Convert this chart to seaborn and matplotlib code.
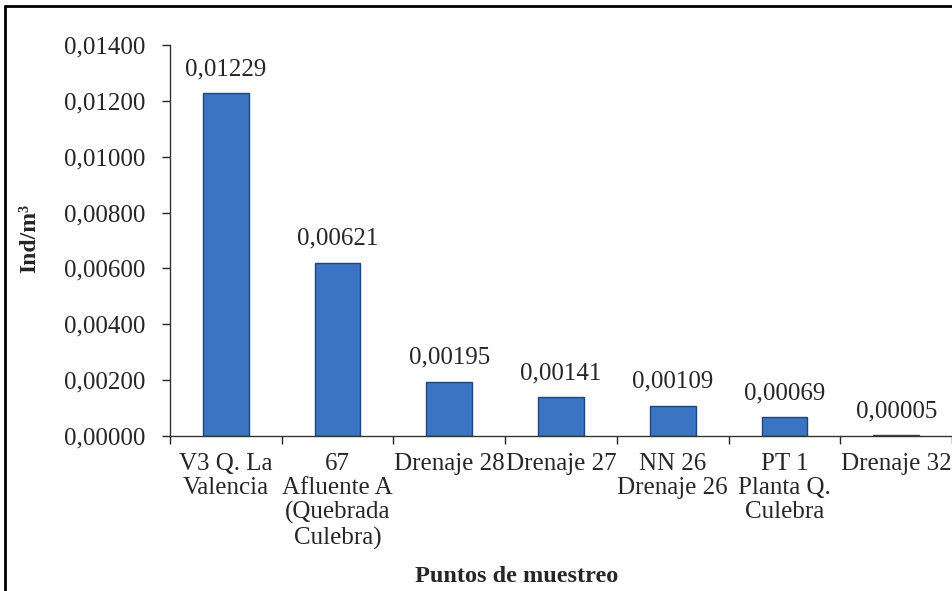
import pandas as pd
import numpy as np
import matplotlib.pyplot as plt
import seaborn as sns
from matplotlib.lines import Line2D
from matplotlib.ticker import FixedLocator

sns.set_style('white')
plt.rcParams['font.family'] = ['Liberation Serif', 'DejaVu Serif']

# Datos
puntos = ['V3 Q. La\nValencia', '67\nAfluente A\n(Quebrada\nCulebra)', 'Drenaje 28',
          'Drenaje 27', 'NN 26\nDrenaje 26', 'PT 1\nPlanta Q.\nCulebra', 'Drenaje 32']
densidad = [0.01229, 0.00621, 0.00195, 0.00141, 0.00109, 0.00069, 0.00005]
y_ticks = [0.0, 0.002, 0.004, 0.006, 0.008, 0.010, 0.012, 0.014]

df = pd.DataFrame({'punto': puntos, 'densidad': densidad})

fig = plt.figure(figsize=(9.53, 5.91), dpi=100)
ax = fig.add_axes([0.1784, 0.2623, 0.8206, 0.6616])

sns.barplot(data=df, x='punto', y='densidad', color='#3a74c2', saturation=1,
            width=0.41, edgecolor='#1e4679', linewidth=1, ax=ax)

# etiquetas de valor
for i, v in enumerate(densidad):
    ax.annotate(f'{v:.5f}'.replace('.', ','), (i, v), xytext=(0, 17),
                textcoords='offset points', ha='center', va='center', fontsize=18)

ax.set_ylim(0, 0.014)
ax.set_xlim(-0.5, len(puntos) - 0.5)
ax.set_yticks(y_ticks)
ax.set_yticklabels([f'{t:.5f}'.replace('.', ',') for t in y_ticks], fontsize=18)
ax.tick_params(axis='y', direction='out', length=6, width=1, pad=12, left=True)

ax.set_xticks(range(len(puntos)))
ax.set_xticklabels(puntos, fontsize=18, linespacing=1.13, va='top')
ax.tick_params(axis='x', which='major', length=0, pad=12)
ax.xaxis.set_minor_locator(FixedLocator(np.arange(-0.5, len(puntos), 1.0)))
ax.tick_params(axis='x', which='minor', direction='out', length=6, width=1, bottom=True)

ax.set_xlabel('')
ax.set_ylabel('')
for s in ['top', 'right']:
    ax.spines[s].set_visible(False)
for s in ['left', 'bottom']:
    ax.spines[s].set_color('#333333')
    ax.spines[s].set_linewidth(1)
ax.grid(False)

fig.text(30 / 953, 1 - 238 / 591, 'Ind/m³', rotation=90, ha='center', va='center',
         fontsize=17, fontweight='bold')
fig.text(517 / 953, 1 - 576 / 591, 'Puntos de muestreo', ha='center', va='center',
         fontsize=17.5, fontweight='bold')

# marco
fig.add_artist(Line2D([5 / 953, 5 / 953], [0, 1 - 6 / 591], transform=fig.transFigure,
                      color='black', lw=2))
fig.add_artist(Line2D([5 / 953, 1], [1 - 6 / 591, 1 - 6 / 591], transform=fig.transFigure,
                      color='black', lw=2))

fig.savefig('out.png', dpi=100)
